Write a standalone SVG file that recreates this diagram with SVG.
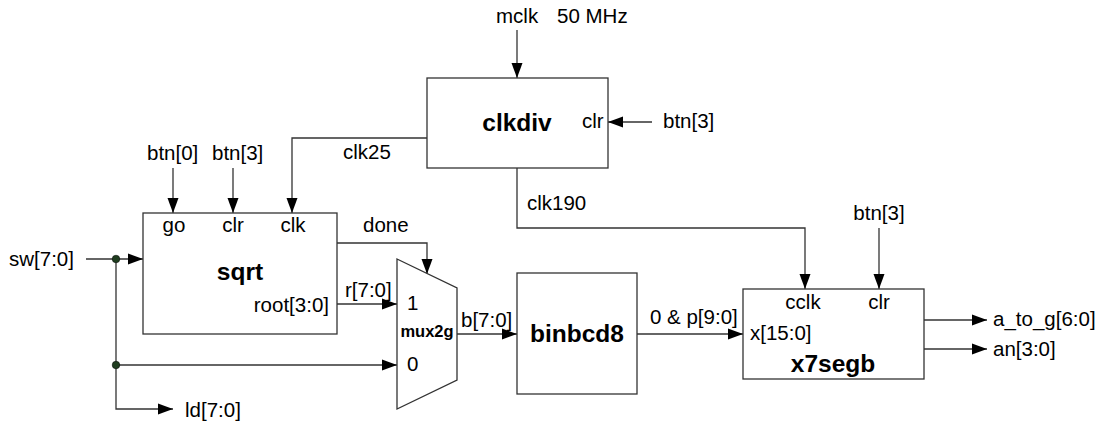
<svg xmlns="http://www.w3.org/2000/svg" width="1104" height="423" viewBox="0 0 1104 423">
<defs>
<style>
.box{fill:#fff;stroke:#333;stroke-width:1.3}
.w{fill:none;stroke:#333;stroke-width:1.3}
.t{font-family:"Liberation Sans",Arial,sans-serif;font-size:20.5px;fill:#000}
.b{font-family:"Liberation Sans",Arial,sans-serif;font-weight:bold;font-size:24.5px;fill:#000}
.m{font-family:"Liberation Sans",Arial,sans-serif;font-weight:bold;font-size:16.5px;fill:#000}
.dot{fill:#1f3d1f;stroke:#000;stroke-width:0.5}
</style>
<marker id="ar" markerUnits="userSpaceOnUse" markerWidth="16" markerHeight="12" refX="15" refY="6" orient="auto" viewBox="0 0 16 12">
<path d="M0,0.5 L15,6 L0,11.5 Z" fill="#000"/>
</marker>
</defs>
<rect width="1104" height="423" fill="#fff"/>
<g id="connectors">
<path class="w" d="M517,30 V78" marker-end="url(#ar)"/>
<path class="w" d="M652,122 H608" marker-end="url(#ar)"/>
<path class="w" d="M427,138 H292 V213" marker-end="url(#ar)"/>
<path class="w" d="M173,168 V213" marker-end="url(#ar)"/>
<path class="w" d="M233,168 V213" marker-end="url(#ar)"/>
<path class="w" d="M517,168 V228 H805 V289" marker-end="url(#ar)"/>
<path class="w" d="M879,228 V289" marker-end="url(#ar)"/>
<path class="w" d="M86,259 H143" marker-end="url(#ar)"/>
<path class="w" d="M116,259 V409 H173" marker-end="url(#ar)"/>
<path class="w" d="M116,365 H397" marker-end="url(#ar)"/>
<path class="w" d="M337,243 H427 V274" marker-end="url(#ar)"/>
<path class="w" d="M337,304 H397" marker-end="url(#ar)"/>
<path class="w" d="M457,334 H517" marker-end="url(#ar)"/>
<path class="w" d="M637,334 H743" marker-end="url(#ar)"/>
<path class="w" d="M924,320 H987" marker-end="url(#ar)"/>
<path class="w" d="M924,349 H987" marker-end="url(#ar)"/>
<circle class="dot" cx="116" cy="259" r="3.8"/>
<circle class="dot" cx="116" cy="365" r="3.8"/>
<text class="t" x="496" y="23">mclk</text>
<text class="t" x="557" y="23">50 MHz</text>
<text class="t" x="663" y="128">btn[3]</text>
<text class="t" x="343" y="159">clk25</text>
<text class="t" x="527" y="210">clk190</text>
<text class="t" x="147" y="160">btn[0]</text>
<text class="t" x="212" y="160">btn[3]</text>
<text class="t" x="879" y="220" text-anchor="middle">btn[3]</text>
<text class="t" x="9" y="266">sw[7:0]</text>
<text class="t" x="185" y="417">ld[7:0]</text>
<text class="t" x="363" y="232">done</text>
<text class="t" x="345" y="297">r[7:0]</text>
<text class="t" x="461" y="327">b[7:0]</text>
<text class="t" x="650" y="324">0 &amp; p[9:0]</text>
<text class="t" x="993" y="326">a_to_g[6:0]</text>
<text class="t" x="993" y="356">an[3:0]</text>
</g>
<g id="clkdiv">
<rect class="box" x="427" y="78" width="181" height="90"/>
<text class="b" x="517" y="131" text-anchor="middle">clkdiv</text>
<text class="t" x="582" y="128">clr</text>
</g>
<g id="sqrt">
<rect class="box" x="143" y="213" width="194" height="121"/>
<text class="t" x="174" y="232" text-anchor="middle">go</text>
<text class="t" x="233" y="232" text-anchor="middle">clr</text>
<text class="t" x="293" y="232" text-anchor="middle">clk</text>
<text class="b" x="240" y="280" text-anchor="middle">sqrt</text>
<text class="t" x="329" y="312" text-anchor="end">root[3:0]</text>
</g>
<g id="mux2g">
<path class="box" d="M397,259 L457,288 L457,380 L397,409 Z"/>
<text class="t" x="407" y="310">1</text>
<text class="t" x="407" y="371">0</text>
<text class="m" x="427" y="337" text-anchor="middle">mux2g</text>
</g>
<g id="binbcd8">
<rect class="box" x="517" y="273" width="120" height="121"/>
<text class="b" x="577" y="342" text-anchor="middle">binbcd8</text>
</g>
<g id="x7segb">
<rect class="box" x="743" y="289" width="181" height="90"/>
<text class="t" x="803" y="309" text-anchor="middle">cclk</text>
<text class="t" x="879" y="309" text-anchor="middle">clr</text>
<text class="t" x="750" y="340">x[15:0]</text>
<text class="b" x="833" y="372" text-anchor="middle">x7segb</text>
</g>
</svg>
